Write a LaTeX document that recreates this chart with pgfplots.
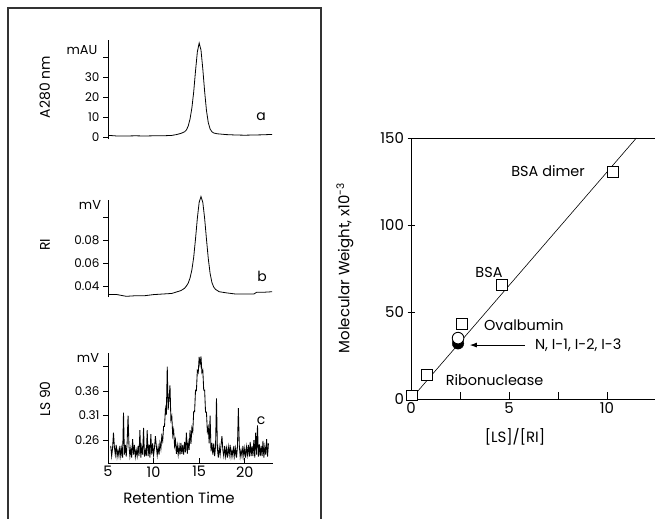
\documentclass[border=0pt]{standalone}
\usepackage{pgfplots}
\pgfplotsset{compat=1.18}
\usepackage{fontspec}
\setmainfont{Poppins}
\usetikzlibrary{arrows.meta}
\newcommand\fs[1]{\fontsize{#1}{#1}\selectfont}
\begin{document}
\begin{tikzpicture}
\useasboundingbox (0,0) rectangle (655bp,-519bp);
\pgfplotsset{
  chrom/.style={scale only axis, width=165bp, xmin=5, xmax=23.1,
    axis y line*=left, axis line style={-, line width=0.9bp},
    ytick align=outside, major tick length=5bp,
    tick style={line width=0.9bp, black},
    tick label style={font=\fs{12}},
    /pgf/number format/assume math mode=true,
    clip=false, anchor=south west},
}
% frame
\draw[line width=1.4bp, black!80] (8bp,-519bp) -- (8bp,-8bp) -- (321bp,-8bp) -- (321bp,-519bp);

% panel a
\begin{axis}[chrom, axis x line=none, xtick=\empty, at={(108bp,-139bp)}, height=99bp, ymin=-1, ymax=48.5,
  ytick={0,10,20,30,40}, yticklabels={0,10,20,30,{}}]
\addplot[black, line width=0.8bp] coordinates {
(5.1,0.8)(6,0.5)(7,0.5)(8,0.6)(9,0.5)(10,0.6)(11,0.6)(12,0.8)(12.5,1.2)(13,1.8)
(13.4,2.6)(13.6,3.5)(13.8,5.5)(14.0,9)(14.2,14.5)(14.4,22.5)(14.6,33)(14.8,42.5)
(15.0,47)(15.2,43.5)(15.4,34)(15.6,22.8)(15.8,13.3)(16.0,7.2)(16.2,4.0)(16.4,2.6)
(16.6,2.0)(17,1.6)(18,1.2)(19,1.0)(20,0.9)(21,1.0)(22,1.1)(23,1.3)};
\node[font=\fs{14}] at (axis cs:21.8,10) {a};
\end{axis}

% panel b
\begin{axis}[chrom, axis x line=none, xtick=\empty, at={(108bp,-297bp)}, height=97bp, ymin=0.0304, ymax=0.115,
  ytick={0.04,0.06,0.08,0.10}, yticklabels={0.04,0.06,0.08,{}}]
\addplot[black, line width=0.8bp] coordinates {
(5.1,0.0325)(6,0.0325)(7,0.031)(8,0.0315)(9,0.0315)(10,0.0325)(11,0.033)(12,0.0335)
(12.6,0.035)(13.0,0.036)(13.4,0.038)(13.6,0.040)(13.8,0.0425)(14.0,0.047)(14.2,0.054)
(14.4,0.065)(14.6,0.081)(14.8,0.099)(15.0,0.113)(15.2,0.118)(15.4,0.113)(15.6,0.099)
(15.8,0.081)(16.0,0.064)(16.2,0.051)(16.4,0.043)(16.6,0.039)(16.8,0.037)(17.2,0.035)
(18,0.034)(19,0.033)(20,0.033)(21,0.033)(21.3,0.0345)(22,0.0345)(23,0.035)};
\node[font=\fs{14}] at (axis cs:21.9,0.048) {b};
\end{axis}

% panel c
\begin{axis}[chrom, axis x line*=bottom, at={(108bp,-463bp)}, height=110bp, ymin=0.213, ymax=0.438,
  xtick={5,10,15,20}, xtick align=inside, x tick label style={font=\fs{14.5}},
  ytick={0.26,0.31,0.36,0.41}, yticklabels={0.26,0.31,0.36,{}}]
\draw[line width=0.9bp] (rel axis cs:0,0) -- (rel axis cs:1,0);
\addplot[black, line width=0.85bp] table[row sep=\\] {
x y\\
5.3 0.248\\ 5.4 0.227\\ 5.5 0.243\\ 5.6 0.275\\ 5.7 0.246\\ 5.8 0.230\\ 5.9 0.250\\ 6.0 0.226\\
6.1 0.239\\ 6.2 0.227\\ 6.3 0.248\\ 6.4 0.227\\ 6.5 0.243\\ 6.6 0.224\\ 6.7 0.316\\ 6.8 0.230\\
6.9 0.250\\ 7.0 0.226\\ 7.1 0.255\\ 7.2 0.310\\ 7.3 0.248\\ 7.4 0.227\\ 7.5 0.243\\ 7.6 0.224\\
7.7 0.262\\ 7.8 0.230\\ 7.9 0.250\\ 8.0 0.226\\ 8.1 0.239\\ 8.2 0.227\\ 8.3 0.248\\ 8.4 0.227\\
8.5 0.280\\ 8.6 0.224\\ 8.7 0.246\\ 8.8 0.230\\ 8.9 0.285\\ 9.0 0.226\\ 9.1 0.239\\ 9.2 0.227\\
9.3 0.280\\ 9.4 0.227\\ 9.5 0.251\\ 9.6 0.224\\ 9.7 0.272\\ 9.8 0.230\\ 9.9 0.253\\ 10.0 0.229\\
10.1 0.244\\ 10.2 0.268\\ 10.3 0.248\\ 10.4 0.229\\ 10.5 0.246\\ 10.6 0.230\\ 10.7 0.254\\ 10.8 0.242\\
10.9 0.268\\ 11.0 0.258\\ 11.1 0.288\\ 11.2 0.288\\ 11.3 0.324\\ 11.4 0.312\\ 11.5 0.410\\ 11.6 0.322\\
11.7 0.345\\ 11.8 0.372\\ 11.9 0.301\\ 12.0 0.309\\ 12.1 0.270\\ 12.2 0.281\\ 12.3 0.248\\ 12.4 0.260\\
12.5 0.232\\ 12.6 0.249\\ 12.7 0.230\\ 12.8 0.248\\ 12.9 0.230\\ 13.0 0.254\\ 13.1 0.232\\ 13.2 0.250\\
13.3 0.230\\ 13.4 0.256\\ 13.5 0.235\\ 13.6 0.275\\ 13.7 0.232\\ 13.8 0.255\\ 13.9 0.240\\ 14.0 0.280\\
14.1 0.252\\ 14.2 0.285\\ 14.3 0.277\\ 14.4 0.318\\ 14.5 0.318\\ 14.6 0.362\\ 14.7 0.361\\ 14.8 0.402\\
14.9 0.398\\ 15.0 0.430\\ 15.1 0.414\\ 15.2 0.431\\ 15.3 0.398\\ 15.4 0.403\\ 15.5 0.362\\ 15.6 0.362\\
15.7 0.317\\ 15.8 0.317\\ 15.9 0.277\\ 16.0 0.286\\ 16.1 0.253\\ 16.2 0.310\\ 16.3 0.237\\ 16.4 0.254\\
16.5 0.230\\ 16.6 0.253\\ 16.7 0.227\\ 16.8 0.248\\ 16.9 0.345\\ 17.0 0.243\\ 17.1 0.224\\ 17.2 0.246\\
17.3 0.230\\ 17.4 0.250\\ 17.5 0.268\\ 17.6 0.239\\ 17.7 0.227\\ 17.8 0.248\\ 17.9 0.227\\ 18.0 0.243\\
18.1 0.224\\ 18.2 0.246\\ 18.3 0.230\\ 18.4 0.250\\ 18.5 0.226\\ 18.6 0.239\\ 18.7 0.227\\ 18.8 0.248\\
18.9 0.227\\ 19.0 0.243\\ 19.1 0.224\\ 19.2 0.246\\ 19.3 0.325\\ 19.4 0.250\\ 19.5 0.226\\ 19.6 0.239\\
19.7 0.227\\ 19.8 0.248\\ 19.9 0.227\\ 20.0 0.243\\ 20.1 0.224\\ 20.2 0.246\\ 20.3 0.230\\ 20.4 0.250\\
20.5 0.226\\ 20.6 0.256\\ 20.7 0.227\\ 20.8 0.248\\ 20.9 0.227\\ 21.0 0.260\\ 21.1 0.224\\ 21.2 0.275\\
21.3 0.230\\ 21.4 0.290\\ 21.5 0.226\\ 21.6 0.251\\ 21.7 0.227\\ 21.8 0.248\\ 21.9 0.227\\ 22.0 0.258\\
22.1 0.224\\ 22.2 0.246\\ 22.3 0.230\\ 22.4 0.262\\ 22.5 0.226\\ 22.6 0.253\\
};
\node[font=\fs{14}] at (axis cs:21.8,0.30) {c};
\end{axis}

% left labels
\node[rotate=90, font=\fs{14}] at (45bp,-87bp) {A280 nm};
\node[rotate=90, font=\fs{14}] at (45bp,-245bp) {RI};
\node[rotate=90, font=\fs{14}] at (45bp,-399bp) {LS 90};
\node[font=\fs{13}] at (82bp,-50bp) {mAU};
\node[font=\fs{13}] at (90bp,-205bp) {mV};
\node[font=\fs{13}] at (88bp,-358bp) {mV};
\node[font=\fs{15}] at (179bp,-498bp) {Retention Time};

% right plot
\begin{axis}[scale only axis, at={(411bp,-399bp)}, anchor=south west,
  width=244bp, height=261bp, xmin=0, xmax=12.45, ymin=0, ymax=150,
  axis x line*=bottom, axis y line*=left, axis line style={-, line width=0.9bp},
  xtick={0,2.5,5,7.5,10}, xticklabels={0,{},5,{},10},
  ytick={0,50,100,150},
  xtick align=inside, ytick align=center, major tick length=7bp,
  tick style={line width=0.9bp, black},
  tick label style={font=\fs{15}},
  /pgf/number format/assume math mode=true,
  clip=false]
\draw[line width=0.9bp] (rel axis cs:0,1) -- (rel axis cs:1,1);
\addplot[black, line width=0.6bp] coordinates {(0,0) (11.5,150)};
\addplot[only marks, mark=*, mark size=5.8bp, black] coordinates {(2.4,32)};
\addplot[only marks, mark=*, mark size=5.8bp, black, mark options={fill=white, line width=0.9bp}] coordinates {(2.4,35)};
\addplot[only marks, mark=square*, mark size=5.3bp, black, mark options={fill=white, line width=0.9bp}] coordinates {
(0.05,2)(0.82,13.8)(2.6,43)(4.64,65.5)(10.3,130.5)};
\node[font=\fs{14.5}, anchor=east] at (axis cs:9.05,131) {BSA dimer};
\node[font=\fs{14.5}] at (axis cs:3.98,73) {BSA};
\node[font=\fs{14.5}, anchor=west] at (axis cs:3.55,42.5) {Ovalbumin};
\node[font=\fs{14.5}, anchor=west] at (axis cs:6.15,31) {N, I-1, I-2, I-3};
\draw[-{Latex[length=7bp,width=5bp]}, line width=0.9bp] (axis cs:5.8,31) -- (axis cs:3.0,31);
\node[font=\fs{14.5}, anchor=west] at (axis cs:1.6,11) {Ribonuclease};
\end{axis}
\node[font=\fs{15}] at (515bp,-437bp) {[LS]/[RI]};
\node[rotate=90, font=\fs{15}] at (345bp,-268bp) {Molecular Weight, x10\textsuperscript{-3}};
\end{tikzpicture}
\end{document}
